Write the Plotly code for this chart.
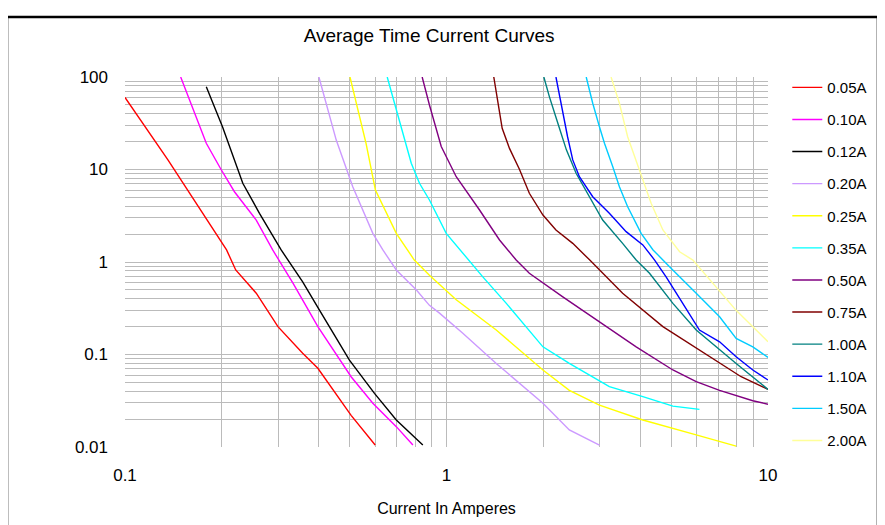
import plotly.graph_objects as go

# Average time-current curves: current (A) vs time (s)
labels = ["0.05A", "0.10A", "0.12A", "0.20A", "0.25A", "0.35A", "0.50A",
          "0.75A", "1.00A", "1.10A", "1.50A", "2.00A"]
colors = ["#FF0000", "#FF00FF", "#000000", "#CC99FF", "#FFFF00", "#00FFFF",
          "#800080", "#800000", "#008080", "#0000FF", "#00CCFF", "#FFFF99"]

i_005 = [0.1, 0.136, 0.207, 0.221, 0.256, 0.299, 0.357, 0.398, 0.505, 0.6]
t_005 = [60, 12.7, 1.35, 0.82, 0.46, 0.2, 0.103, 0.071, 0.022, 0.0105]

i_010 = [0.149, 0.179, 0.199, 0.219, 0.256, 0.288, 0.333, 0.398, 0.505, 0.59, 0.698, 0.786]
t_010 = [100, 19.2, 10, 5.75, 2.84, 1.35, 0.59, 0.2, 0.0575, 0.0297, 0.0166, 0.0105]

i_012 = [0.179, 0.201, 0.2325, 0.262, 0.306, 0.357, 0.403, 0.499, 0.597, 0.698, 0.844]
t_012 = [78.5, 29, 7.1, 3.36, 1.35, 0.61, 0.30, 0.087, 0.038, 0.0196, 0.0105]

i_020 = [0.401, 0.454, 0.511, 0.59, 0.634, 0.698, 0.805, 0.885, 0.951, 1.124, 1.428, 1.995, 2.41, 2.99]
t_020 = [100, 20.8, 6.5, 2.04, 1.35, 0.82, 0.50, 0.34, 0.28, 0.17, 0.080, 0.0297, 0.0153, 0.0105]

i_025 = [0.501, 0.562, 0.601, 0.698, 0.794, 0.885, 1.072, 1.428, 1.995, 2.41, 2.99, 4.08, 5.98, 7.96]
t_025 = [100, 19.2, 6.0, 2.04, 1.05, 0.72, 0.39, 0.184, 0.068, 0.041, 0.0284, 0.0196, 0.0135, 0.0102]

i_035 = [0.654, 0.689, 0.74, 0.777, 0.824, 0.885, 0.998, 1.124, 1.297, 1.535, 1.81, 1.995, 2.41, 3.21, 4.08, 5.06, 6.12]
t_035 = [100, 52, 22.6, 11.7, 7.1, 4.68, 2.04, 1.24, 0.69, 0.357, 0.184, 0.121, 0.080, 0.045, 0.035, 0.0277, 0.0255]

i_050 = [0.84, 0.885, 0.963, 1.072, 1.267, 1.462, 1.647, 1.81, 2.30, 2.99, 3.89, 5.06, 5.98, 7.07, 8.97, 10.0]
t_050 = [100, 49.8, 17.7, 8.36, 3.65, 1.73, 1.05, 0.755, 0.42, 0.226, 0.121, 0.068, 0.0508, 0.041, 0.0316, 0.029]

i_075 = [1.403, 1.445, 1.49, 1.57, 1.687, 1.81, 1.995, 2.19, 2.47, 2.79, 2.99, 3.53, 4.71, 5.98, 7.07, 8.25, 10.0]
t_075 = [100, 52, 27.9, 16.9, 10, 5.53, 3.22, 2.22, 1.59, 1.05, 0.82, 0.46, 0.2, 0.117, 0.080, 0.0575, 0.042]

i_100 = [2.008, 2.09, 2.22, 2.36, 2.53, 2.79, 3.06, 3.53, 3.89, 4.28, 5.06, 5.98, 6.90, 7.96, 10.0]
t_100 = [100, 61, 31.6, 16.3, 9.1, 5.08, 2.84, 1.59, 1.05, 0.755, 0.357, 0.184, 0.121, 0.080, 0.042]

i_110 = [2.19, 2.27, 2.38, 2.47, 2.59, 2.85, 3.21, 3.62, 4.08, 4.44, 4.82, 5.43, 5.84, 6.12, 7.07, 7.96, 8.97, 10.0]
t_110 = [100, 52, 22.6, 12.7, 8.36, 5.08, 3.36, 2.13, 1.53, 1.05, 0.69, 0.357, 0.236, 0.184, 0.137, 0.0946, 0.068, 0.053]

i_150 = [2.72, 2.85, 2.99, 3.10, 3.29, 3.45, 3.66, 4.03, 4.39, 4.71, 4.94, 5.98, 7.07, 7.96, 8.97, 10.0]
t_150 = [100, 52, 29, 19.2, 10.7, 6.5, 3.96, 2.04, 1.35, 1.05, 0.89, 0.46, 0.256, 0.149, 0.121, 0.093]

i_200 = [3.25, 3.45, 3.66, 3.98, 4.33, 4.71, 5.31, 5.84, 6.73, 7.96, 8.97, 10.0]
t_200 = [100, 52, 22.6, 10, 4.31, 2.22, 1.29, 1.05, 0.59, 0.30, 0.2, 0.137]

currents = [i_005, i_010, i_012, i_020, i_025, i_035, i_050, i_075, i_100, i_110, i_150, i_200]
times = [t_005, t_010, t_012, t_020, t_025, t_035, t_050, t_075, t_100, t_110, t_150, t_200]

x_tickvals = [0.1, 1, 10]
x_ticktext = ["0.1", "1", "10"]
y_tickvals = [0.01, 0.1, 1, 10, 100]
y_ticktext = ["0.01", "0.1", "1", "10", "100"]
minor_digits = [2, 3, 4, 5, 6, 7, 8, 9]

x_minor = [d * base for base in (0.1, 1) for d in minor_digits]
y_minor = [d * base for base in (0.01, 0.1, 1, 10) for d in minor_digits]

FONT = "Liberation Sans, Arial, sans-serif"
GRID = "#BBBBBB"

fig = go.Figure()
for k in range(len(labels)):
    fig.add_trace(go.Scatter(
        x=currents[k], y=times[k], mode="lines", name=labels[k],
        legendgroup=labels[k],
        line=dict(color=colors[k], width=1.4),
    ))

fig.update_layout(
    width=877, height=517,
    margin=dict(l=117, r=117, t=69, b=78),
    paper_bgcolor="white", plot_bgcolor="white",
    font=dict(family=FONT, size=17, color="black"),
    title=dict(text="Average Time Current Curves", x=0.473, xref="paper",
               xanchor="center", y=0.948, yref="container", yanchor="middle",
               font=dict(family=FONT, size=19, color="black")),
    showlegend=True,
    legend=dict(x=1.03, xanchor="left", y=1.016, yanchor="top",
                font=dict(family=FONT, size=15, color="black"),
                tracegroupgap=9.6, maxheight=600, bgcolor="rgba(0,0,0,0)"),
    xaxis=dict(type="log", range=[-1, 1], tickvals=x_tickvals, ticktext=x_ticktext,
               showgrid=True, gridcolor=GRID, gridwidth=1.3,
               minor=dict(tickvals=x_minor, showgrid=True, gridcolor=GRID, gridwidth=1.3, ticks=""),
               ticks="", ticklabelstandoff=16, zeroline=False,
               title=dict(text="Current In Amperes", standoff=18,
                          font=dict(family=FONT, size=16, color="black")),
               tickfont=dict(family=FONT, size=17, color="black")),
    yaxis=dict(type="log", range=[-2, 2], tickvals=y_tickvals, ticktext=y_ticktext,
               showgrid=True, gridcolor=GRID, gridwidth=1.3,
               minor=dict(tickvals=y_minor, showgrid=True, gridcolor=GRID, gridwidth=1.3, ticks=""),
               ticks="", ticklabelstandoff=16, zeroline=False,
               tickfont=dict(family=FONT, size=17, color="black")),
)

# outer chart frame (left, top, right edges)
frame = dict(color="black", width=2.5)
fig.add_shape(type="line", xref="paper", yref="paper", x0=-0.1835, x1=-0.1835, y0=1.162, y1=-0.3, line=frame)
fig.add_shape(type="line", xref="paper", yref="paper", x0=-0.1835, x1=1.171, y0=1.162, y1=1.162, line=frame)
fig.add_shape(type="line", xref="paper", yref="paper", x0=1.171, x1=1.171, y0=1.162, y1=-0.3, line=frame)

fig.write_html("out.html")
